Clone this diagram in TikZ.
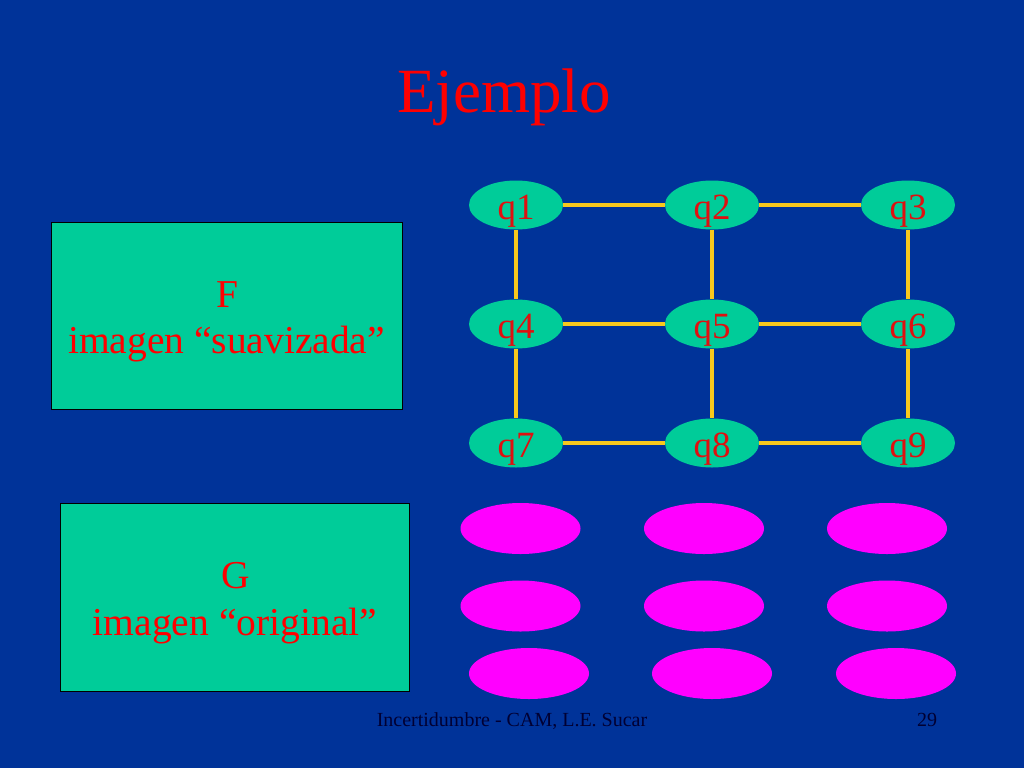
\documentclass[tikz,border=0pt]{standalone}
\usepackage{fontspec}
\setmainfont{Liberation Serif}
\usetikzlibrary{shapes.geometric}
\definecolor{bgblue}{HTML}{003399}
\definecolor{boxgreen}{HTML}{00CC99}
\definecolor{txtred}{HTML}{FF0000}
\definecolor{qred}{HTML}{E01010}
\definecolor{edgegold}{HTML}{F8C81C}
\definecolor{magent}{HTML}{FF00FF}
\definecolor{footc}{HTML}{000033}
\tikzset{
  qnode/.style={ellipse, fill=boxgreen, minimum width=94pt, minimum height=49pt, inner sep=0pt,
    text=qred, font=\fontsize{37}{40}\selectfont, text height=30pt, text depth=2pt},
  mnode/.style={ellipse, fill=magent, minimum width=120pt, minimum height=51pt, inner sep=0pt},
  bigbox/.style={rectangle, fill=boxgreen, draw=black, line width=1pt, inner sep=0pt},
  boxtxt/.style={text=txtred, font=\fontsize{39.5}{46.5}\selectfont, anchor=base, inner sep=0pt},
  link/.style={edgegold, line width=4pt},
  foot/.style={text=footc, font=\fontsize{20}{22}\selectfont, anchor=base}
}
\begin{document}
\begin{tikzpicture}[x=1pt,y=-1pt]
\fill[bgblue] (0,0) rectangle (1024,768);
\useasboundingbox (0,0) rectangle (1024,768);
% title
\node[text=txtred, font=\fontsize{63}{68}\selectfont, anchor=base] (title) at (504,112) {Ejemplo};
% boxes
\node[bigbox, minimum width=351pt, minimum height=187pt] (F) at (226.5,315.5) {};
\node[boxtxt] (F1) at (227,307) {F};
\node[boxtxt] (F2) at (226.5,353) {imagen “suavizada”};
\node[bigbox, minimum width=349pt, minimum height=188pt] (G) at (234.5,597) {};
\node[boxtxt] (G1) at (236,588) {G};
\node[boxtxt] (G2) at (235,635) {imagen “original”};
% grid nodes
\node[qnode] (q1) at (516,205) {q1};
\node[qnode] (q2) at (712,205) {q2};
\node[qnode] (q3) at (908,205) {q3};
\node[qnode] (q4) at (516,324) {q4};
\node[qnode] (q5) at (712,324) {q5};
\node[qnode] (q6) at (908,324) {q6};
\node[qnode] (q7) at (516,443) {q7};
\node[qnode] (q8) at (712,443) {q8};
\node[qnode] (q9) at (908,443) {q9};
% grid edges
\draw[link] (q1) -- (q2); \draw[link] (q2) -- (q3);
\draw[link] (q4) -- (q5); \draw[link] (q5) -- (q6);
\draw[link] (q7) -- (q8); \draw[link] (q8) -- (q9);
\draw[link] (q1) -- (q4); \draw[link] (q4) -- (q7);
\draw[link] (q2) -- (q5); \draw[link] (q5) -- (q8);
\draw[link] (q3) -- (q6); \draw[link] (q6) -- (q9);
% magenta ellipses
\node[mnode] (g1) at (520.5,528.5) {};
\node[mnode] (g2) at (704,528.5) {};
\node[mnode] (g3) at (887,528.5) {};
\node[mnode] (g4) at (520.5,606) {};
\node[mnode] (g5) at (704,606) {};
\node[mnode] (g6) at (887,606) {};
\node[mnode] (g7) at (529,673.5) {};
\node[mnode] (g8) at (712,673.5) {};
\node[mnode] (g9) at (896,673.5) {};
% footer
\node[foot] (footer) at (512,726) {Incertidumbre - CAM, L.E. Sucar};
\node[foot] (page) at (927,726) {29};
\end{tikzpicture}
\end{document}
